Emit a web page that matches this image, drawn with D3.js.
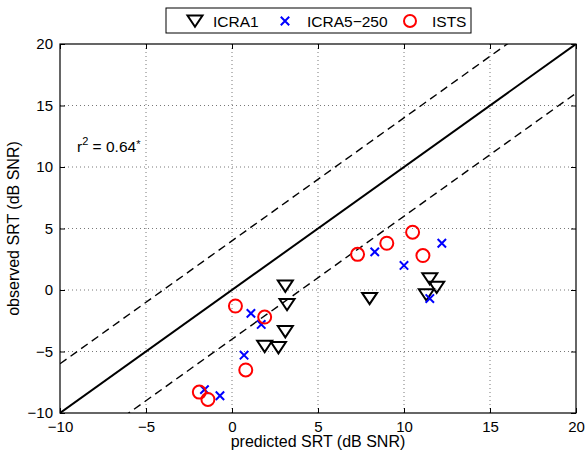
<!DOCTYPE html>
<html>
<head>
<meta charset="utf-8">
<script src="https://cdn.jsdelivr.net/npm/d3@7"></script>
<style>
  body { margin: 0; background: #fff; }
  text { font-family: "Liberation Sans", Arial, sans-serif; }
</style>
</head>
<body>
<div id="chart"></div>
<script>
// Data (predicted, observed) in dB SNR
var icra1X = [3.1, 3.2, 3.1, 1.9, 2.7, 8.0, 11.5, 11.9, 11.3];
var icra1Y = [0.4, -1.1, -3.3, -4.5, -4.6, -0.6, 1.0, 0.3, -0.3];
var icra5X = [1.1, 1.7, 0.7, -1.6, -0.7, 8.3, 12.2, 10.0, 11.5];
var icra5Y = [-1.9, -2.8, -5.3, -8.1, -8.6, 3.1, 3.8, 2.0, -0.7];
var istsX = [0.2, 1.9, 0.8, -1.9, -1.4, 7.3, 9.0, 10.5, 11.1];
var istsY = [-1.3, -2.2, -6.5, -8.3, -8.9, 2.9, 3.8, 4.7, 2.8];
var ticks = [-10, -5, 0, 5, 10, 15, 20];
var legendNames = ["ICRA1", "ICRA5\u2212250", "ISTS"];

var width = 586, height = 454;
var plotLeft = 60, plotRight = 576, plotTop = 44, plotBottom = 413;

var svg = d3.select("#chart").append("svg")
    .attr("width", width)
    .attr("height", height);

var x = d3.scaleLinear().domain([-10, 20]).range([plotLeft, plotRight]);
var y = d3.scaleLinear().domain([-10, 20]).range([plotBottom, plotTop]);

// dotted grid
svg.append("g").selectAll("line").data(ticks.slice(1, -1)).enter()
    .append("line")
    .attr("x1", function(d) { return x(d); })
    .attr("x2", function(d) { return x(d); })
    .attr("y1", plotTop).attr("y2", plotBottom)
    .attr("stroke", "#555").attr("stroke-width", 0.8)
    .attr("stroke-dasharray", "1,3");
svg.append("g").selectAll("line").data(ticks.slice(1, -1)).enter()
    .append("line")
    .attr("y1", function(d) { return y(d); })
    .attr("y2", function(d) { return y(d); })
    .attr("x1", plotLeft).attr("x2", plotRight)
    .attr("stroke", "#555").attr("stroke-width", 0.8)
    .attr("stroke-dasharray", "1,3");

// reference lines: y = x and y = x +/- 4
svg.append("clipPath").attr("id", "plotclip")
    .append("rect").attr("x", plotLeft).attr("y", plotTop)
    .attr("width", plotRight - plotLeft).attr("height", plotBottom - plotTop);

var refs = [
  { off: 0, dash: null, w: 2 },
  { off: 4, dash: "8,5", w: 1.4 },
  { off: -4, dash: "8,5", w: 1.4 }
];
svg.append("g").attr("clip-path", "url(#plotclip)")
  .selectAll("line").data(refs).enter().append("line")
    .attr("x1", x(-10)).attr("x2", x(20))
    .attr("y1", function(d) { return y(-10 + d.off); })
    .attr("y2", function(d) { return y(20 + d.off); })
    .attr("stroke", "#000")
    .attr("stroke-width", function(d) { return d.w; })
    .attr("stroke-dasharray", function(d) { return d.dash; });

// axes with inward ticks on all sides
var fmt = function(d) { return d < 0 ? "\u2212" + Math.abs(d) : d; };
var xAxis = d3.axisBottom(x).tickValues(ticks).tickSizeInner(-5).tickSizeOuter(0).tickPadding(8).tickFormat(fmt);
var yAxis = d3.axisLeft(y).tickValues(ticks).tickSizeInner(-5).tickSizeOuter(0).tickPadding(7).tickFormat(fmt);

svg.append("g").attr("class", "xAxis")
    .attr("transform", "translate(0," + plotBottom + ")").call(xAxis);
svg.append("g").attr("class", "yAxis")
    .attr("transform", "translate(" + plotLeft + ",0)").call(yAxis);
svg.append("g").attr("transform", "translate(0," + plotTop + ")")
    .call(d3.axisTop(x).tickValues(ticks).tickSizeInner(-5).tickSizeOuter(0).tickFormat(""));
svg.append("g").attr("transform", "translate(" + plotRight + ",0)")
    .call(d3.axisRight(y).tickValues(ticks).tickSizeInner(-5).tickSizeOuter(0).tickFormat(""));

svg.selectAll(".domain").remove();
svg.selectAll(".tick line").attr("stroke", "#000");
svg.selectAll(".tick text").attr("font-size", 15).attr("fill", "#000")
    .attr("font-family", "'Liberation Sans', Arial, sans-serif");

svg.append("rect")
    .attr("x", plotLeft).attr("y", plotTop)
    .attr("width", plotRight - plotLeft).attr("height", plotBottom - plotTop)
    .attr("fill", "none").attr("stroke", "#000").attr("stroke-width", 1.2);

// markers
function triPath(cx, cy) {
  var s = 7.5;
  return "M" + (cx - s) + "," + (cy - s * 0.6) + "L" + (cx + s) + "," + (cy - s * 0.6) +
         "L" + cx + "," + (cy + s * 0.9) + "Z";
}
function crossPath(cx, cy) {
  var s = 4.2;
  return "M" + (cx - s) + "," + (cy - s) + "L" + (cx + s) + "," + (cy + s) +
         "M" + (cx - s) + "," + (cy + s) + "L" + (cx + s) + "," + (cy - s);
}

var marks = svg.append("g");
marks.selectAll("path.icra1").data(d3.range(icra1X.length)).enter()
    .append("path").attr("class", "icra1")
    .attr("d", function(i) { return triPath(x(icra1X[i]), y(icra1Y[i])); })
    .attr("fill", "none").attr("stroke", "#000").attr("stroke-width", 2);
marks.selectAll("path.icra5").data(d3.range(icra5X.length)).enter()
    .append("path").attr("class", "icra5")
    .attr("d", function(i) { return crossPath(x(icra5X[i]), y(icra5Y[i])); })
    .attr("fill", "none").attr("stroke", "#0000ff").attr("stroke-width", 2);
marks.selectAll("circle").data(d3.range(istsX.length)).enter()
    .append("circle")
    .attr("cx", function(i) { return x(istsX[i]); })
    .attr("cy", function(i) { return y(istsY[i]); })
    .attr("r", 6.5)
    .attr("fill", "none").attr("stroke", "#ff0000").attr("stroke-width", 2);

// r^2 annotation
var r2 = svg.append("text").attr("x", 77).attr("y", 152).attr("font-size", 15.5);
r2.append("tspan").text("r");
r2.append("tspan").attr("font-size", 11).attr("dy", -7).text("2");
r2.append("tspan").attr("dy", 7).text(" = 0.64");
r2.append("tspan").attr("font-size", 11).attr("dy", -4).text("*");

// axis labels
svg.append("text")
    .attr("x", (plotLeft + plotRight) / 2). attr("y", 447)
    .attr("text-anchor", "middle").attr("font-size", 16)
    .text("predicted SRT (dB SNR)");
svg.append("text")
    .attr("transform", "translate(19," + ((plotTop + plotBottom) / 2) + ")rotate(-90)")
    .attr("text-anchor", "middle").attr("font-size", 16)
    .text("observed SRT (dB SNR)");

// legend
var lg = svg.append("g");
lg.append("rect").attr("x", 166).attr("y", 8).attr("width", 305).attr("height", 25)
    .attr("fill", "#fff").attr("stroke", "#000").attr("stroke-width", 1);
lg.append("path").attr("d", triPath(195, 20))
    .attr("fill", "none").attr("stroke", "#000").attr("stroke-width", 2);
lg.append("path").attr("d", crossPath(285, 21))
    .attr("fill", "none").attr("stroke", "#0000ff").attr("stroke-width", 2);
lg.append("circle").attr("cx", 410).attr("cy", 21).attr("r", 6)
    .attr("fill", "none").attr("stroke", "#ff0000").attr("stroke-width", 2);
var legendX = [213, 307, 432];
lg.selectAll("text").data(legendNames).enter().append("text")
    .attr("x", function(d, i) { return legendX[i]; })
    .attr("y", 27).attr("font-size", 15.5)
    .text(function(d) { return d; });
</script>
</body>
</html>
